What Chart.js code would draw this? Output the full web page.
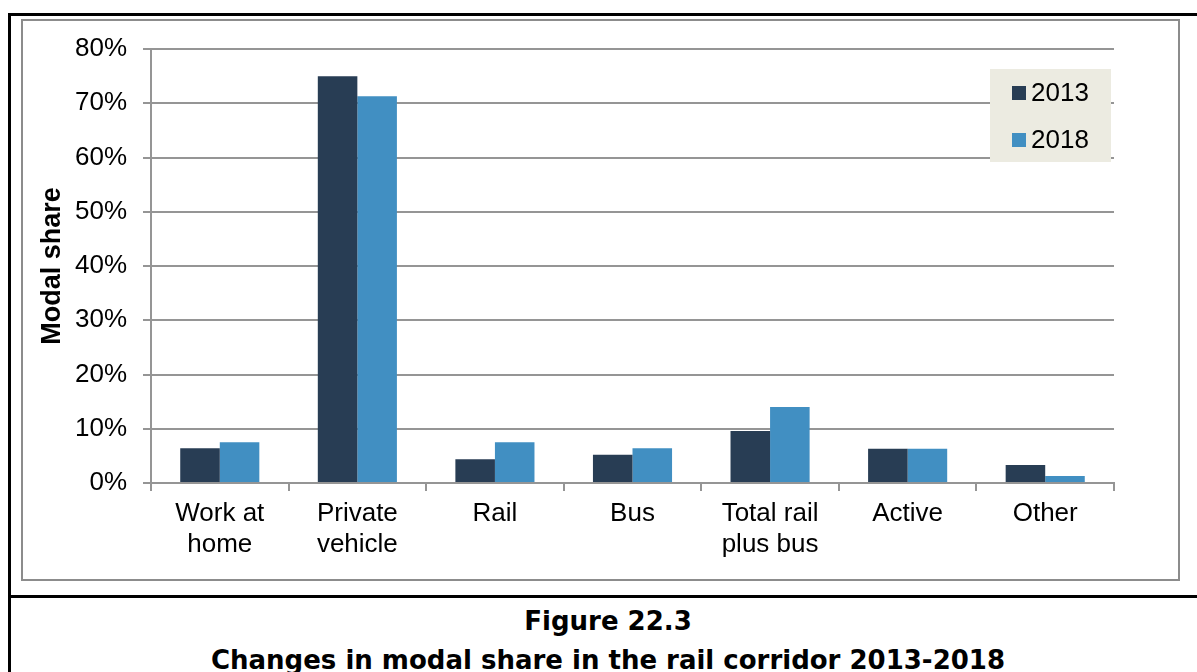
<!DOCTYPE html>
<html>
<head>
<meta charset="utf-8">
<script src="https://cdn.jsdelivr.net/npm/chart.js@4/dist/chart.umd.min.js"></script>
<style>
    html, body { margin: 0; padding: 0; background: #fff; overflow: hidden; }
    body { width: 1197px; height: 672px; position: relative; }
    .frame { position: absolute; left: 8px; top: 13px; width: 1240px; height: 700px;
             border-left: 3px solid #000; border-top: 3px solid #000; box-sizing: border-box; }
    .sep { position: absolute; left: 8px; top: 595px; width: 1240px; height: 3px; background: #000; }
    .inner { position: absolute; left: 21px; top: 19px; width: 1159px; height: 562px;
             border: 2px solid #8c8c8c; box-sizing: border-box; }
    .caption { position: absolute; left: 8px; width: 1200px; text-align: center; line-height: 30px;
               font-family: "DejaVu Sans", Verdana, sans-serif; font-weight: bold; font-size: 26px; color: #000; }
    #wrap { position: absolute; left: 0; top: 0; width: 1197px; height: 672px; }
</style>
</head>
<body>
<div class="frame"></div>
<div class="sep"></div>
<div class="inner"></div>
<div class="caption" style="top: 606px;">Figure 22.3</div>
<div class="caption" style="top: 645px;">Changes in modal share in the rail corridor 2013-2018</div>
<div id="wrap"><canvas id="Chart1"></canvas></div>
<script>
// =========== data
const categories = [
    ["Work at", "home"],
    ["Private", "vehicle"],
    "Rail",
    "Bus",
    ["Total rail", "plus bus"],
    "Active",
    "Other",
];
const share2013 = [6.4, 75.0, 4.4, 5.2, 9.6, 6.3, 3.3];
const share2018 = [7.5, 71.3, 7.5, 6.4, 14.0, 6.3, 1.3];
const seriesLabels = ["2013", "2018"];
const yTicks = [0, 10, 20, 30, 40, 50, 60, 70, 80];

const gridColor = "#959595";
const labelFont = "'Liberation Sans', Arial";

// legend box drawn inside the plot, top right
const boxLegend = {
    id: "boxLegend",
    afterDraw(chart) {
        const { ctx, chartArea } = chart;
        const w = 121, h = 93;
        const x = chartArea.right - w - 3;
        const y = chartArea.top + 20;
        ctx.save();
        ctx.fillStyle = "#ECEBE1";
        ctx.fillRect(x, y, w, h);
        ctx.font = "26px " + labelFont + ", sans-serif";
        ctx.textBaseline = "middle";
        chart.data.datasets.forEach((ds, i) => {
            const cy = y + 24 + i * 47;
            ctx.fillStyle = ds.backgroundColor;
            ctx.fillRect(x + 22, cy - 7, 14, 14);
            ctx.fillStyle = "#000";
            ctx.fillText(ds.label, x + 41, cy + 1);
        });
        ctx.restore();
    },
};

const ctx1 = document.getElementById("Chart1").getContext("2d");
const chart1 = new Chart(ctx1, {
    type: "bar",
    data: {
        labels: categories,
        datasets: [
            {
                label: seriesLabels[0],
                backgroundColor: "#283D54",
                data: share2013,
            },
            {
                label: seriesLabels[1],
                backgroundColor: "#418FC2",
                data: share2018,
            },
        ],
    },
    options: {
        responsive: true,
        maintainAspectRatio: false,
        animation: false,
        barPercentage: 1,
        categoryPercentage: 0.575,
        layout: {
            padding: { top: 49, right: 83, bottom: 0, left: 0 },
        },
        plugins: {
            legend: { display: false },
            title: { display: false },
            tooltip: { enabled: false },
        },
        scales: {
            x: {
                afterFit: (scale) => { scale.height = 189; },
                grid: {
                    drawOnChartArea: false,
                    drawTicks: true,
                    tickLength: 8,
                    color: gridColor,
                    lineWidth: 2,
                },
                border: { display: true, color: gridColor, width: 2 },
                ticks: {
                    padding: 7,
                    color: "#000",
                    maxRotation: 0,
                    font: { family: labelFont, size: 26, lineHeight: 1.2 },
                },
            },
            y: {
                min: 0,
                max: 80,
                afterFit: (scale) => { scale.width = 151; },
                afterBuildTicks: (scale) => {
                    scale.ticks = yTicks.map((v) => ({ value: v }));
                },
                grid: {
                    color: gridColor,
                    lineWidth: 2,
                    drawTicks: true,
                    tickLength: 8,
                },
                border: { display: true, color: gridColor, width: 2 },
                ticks: {
                    padding: 16,
                    color: "#000",
                    font: { family: labelFont, size: 26 },
                    callback: (v) => v + "%",
                },
                title: {
                    display: true,
                    text: "Modal share",
                    color: "#000",
                    font: { family: labelFont, size: 27, weight: "bold" },
                    padding: { top: 36, bottom: 0 },
                },
            },
        },
    },
    plugins: [boxLegend],
});
</script>
</body>
</html>
